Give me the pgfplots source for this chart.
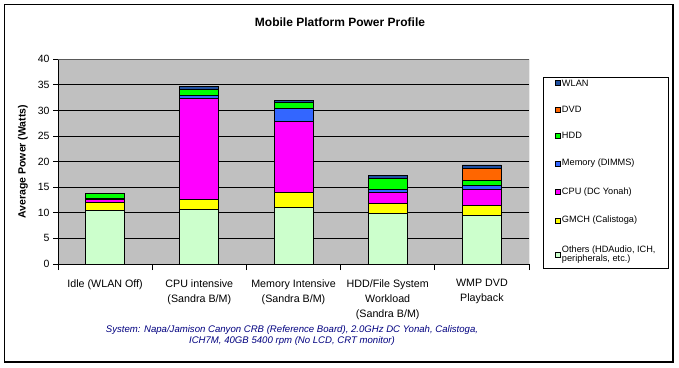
\documentclass[border=0pt]{standalone}
\usepackage{pgfplots}
\pgfplotsset{compat=1.18}
\usepackage{fontspec}
\setmainfont{Liberation Sans}
\definecolor{plotgray}{HTML}{C0C0C0}
\definecolor{cOthers}{HTML}{CCFFCC}
\definecolor{cGMCH}{HTML}{FFFF00}
\definecolor{cCPU}{HTML}{FF00FF}
\definecolor{cMem}{HTML}{3366FF}
\definecolor{cHDD}{HTML}{00FF00}
\definecolor{cDVD}{HTML}{FF6600}
\definecolor{cWLAN}{HTML}{1F4FA0}
\definecolor{subblue}{HTML}{000080}
\begin{document}
\begin{tikzpicture}[x=1pt,y=1pt]
\fill[white] (0,0) rectangle (679,367);
\draw[black, line width=1.3pt] (4.5,5) rectangle (673,362.5);
\node[font=\bfseries\fontsize{12}{14}\selectfont] at (340,345) {Mobile Platform Power Profile};
\node[font=\itshape\fontsize{9.6}{11.5}\selectfont, text=subblue, align=center] at (292,31.5)
  {System: Napa/Jamison Canyon CRB (Reference Board), 2.0GHz DC Yonah, Calistoga,\\ICH7M, 40GB 5400 rpm (No LCD, CRT monitor)};
\begin{axis}[
  at={(58pt,103pt)}, anchor=south west,
  scale only axis, width=471pt, height=204.7pt,
  xmin=-0.5, xmax=4.5, ymin=0, ymax=40,
  ybar stacked, bar width=0.414,
  axis background/.style={fill=plotgray},
  axis x line*=bottom, axis y line*=left,
  axis line style={black, line width=0.8pt},
  xtick={0,1,2,3,4},
  xticklabels={{Idle (WLAN Off)},{CPU intensive\\(Sandra B/M)},{Memory Intensive\\(Sandra B/M)},{HDD/File System\\Workload\\(Sandra B/M)},{WMP DVD\\Playback}},
  xticklabel style={align=center, font=\fontsize{10.7}{15}\selectfont, yshift=-7pt},
  major x tick style={draw=none},
  minor xtick={-0.5,0.5,1.5,2.5,3.5,4.5},
  minor x tick style={black, line width=0.8pt},
  minor tick length=6pt,
  major tick length=5pt,
  tick align=outside,
  ytick={0,5,...,40},
  ytick style={black, line width=0.8pt},
  yticklabel style={font=\fontsize{10.5}{12}\selectfont},
  /pgf/number format/assume math mode=true,
  ymajorgrids,
  major grid style={black, line width=0.8pt},
  ylabel={Average Power (Watts)},
  ylabel style={font=\bfseries\fontsize{10.5}{12}\selectfont, yshift=3pt},
  every axis plot/.append style={draw=black, line width=0.8pt},
  reverse legend,
  legend cell align=left,
  legend style={at={(1.0297,0.9135)}, anchor=north west, draw=black, fill=white, line width=0.6pt,
    font=\fontsize{9.2}{11.5}\selectfont, row sep=17.6pt, inner xsep=12pt, inner ysep=1.5pt,
    nodes={inner sep=1.2pt, text depth=}},
  legend image code/.code={\draw[#1, draw=black, line width=0.5pt] (0pt,-2.5pt) rectangle (5pt,2.5pt);},
]
\addplot[fill=cOthers] coordinates {(0,10.5) (1,10.6) (2,11.0) (3,9.9) (4,9.5)};
\addlegendentry{\begin{tabular}[t]{@{}l@{}}Others (HDAudio, ICH,\\[-2.5pt]peripherals, etc.)\end{tabular}}
\addplot[fill=cGMCH] coordinates {(0,1.5) (1,1.95) (2,2.9) (3,1.9) (4,1.9)};
\addlegendentry{GMCH (Calistoga)}
\addplot[fill=cCPU] coordinates {(0,0.6) (1,19.8) (2,13.95) (3,2.1) (4,3.1)};
\addlegendentry{CPU (DC Yonah)}
\addplot[fill=cMem] coordinates {(0,0.15) (1,0.6) (2,2.5) (3,0.6) (4,0.8)};
\addlegendentry{Memory (DIMMS)}
\addplot[fill=cHDD] coordinates {(0,0.95) (1,1.1) (2,1.15) (3,2.3) (4,0.95)};
\addlegendentry{HDD}
\addplot[fill=cDVD] coordinates {(0,0) (1,0) (2,0) (3,0) (4,2.5)};
\addlegendentry{DVD}
\addplot[fill=cWLAN] coordinates {(0,0) (1,0.7) (2,0.4) (3,0.5) (4,0.6)};
\addlegendentry{WLAN}
\draw[gray!70!black, line width=0.8pt] (rel axis cs:0,1) -- (rel axis cs:1,1) -- (rel axis cs:1,0);
\end{axis}
\end{tikzpicture}
\end{document}
